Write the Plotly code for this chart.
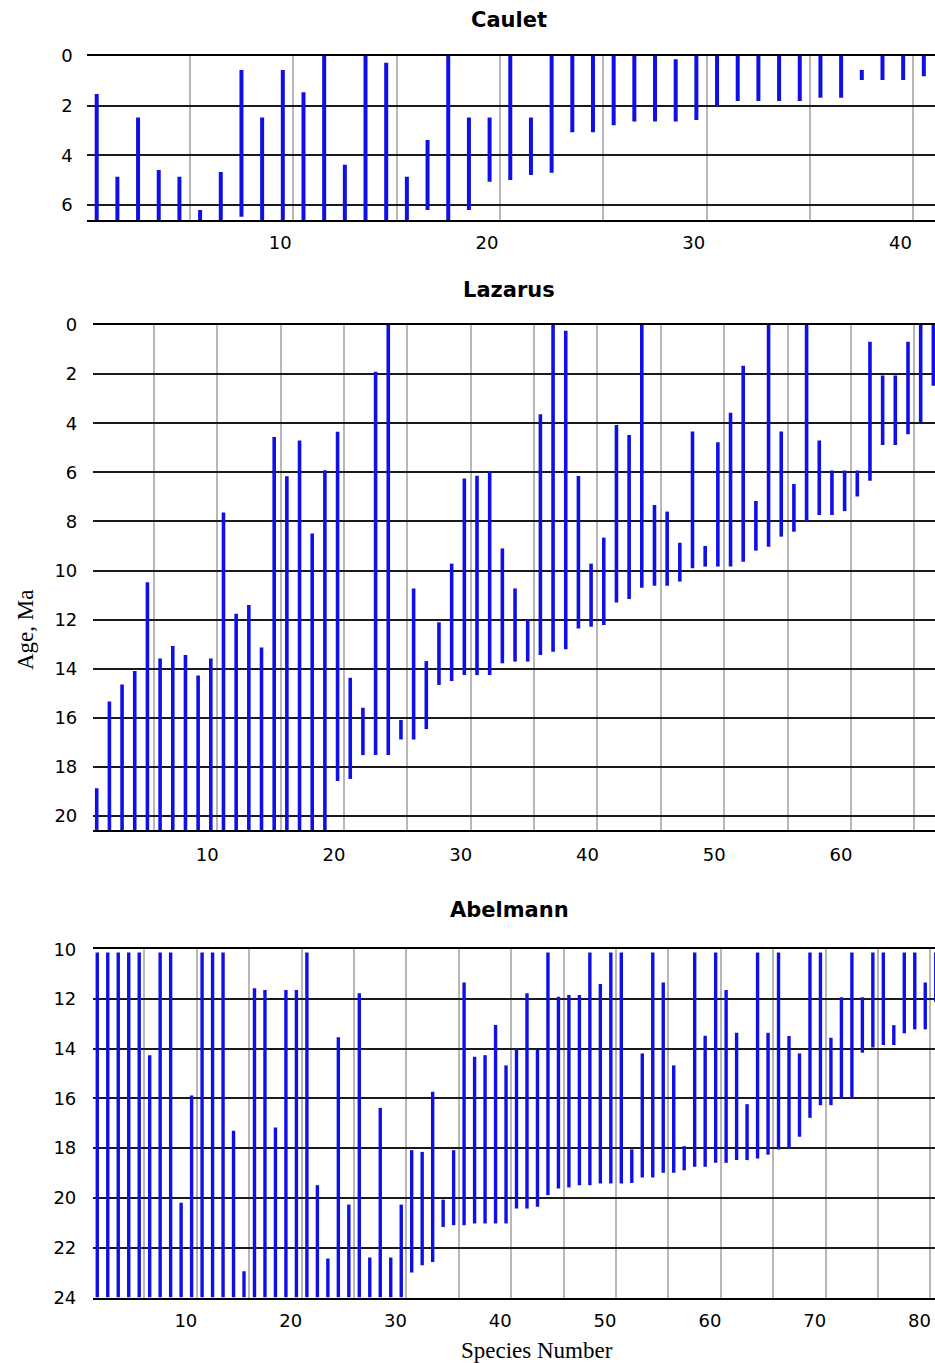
import plotly.graph_objects as go

W, H = 935, 1363

# ---------------- data (Ma) ----------------
caulet_species = list(range(1, 42))
caulet_top = [1.53, 4.86, 2.47, 4.59, 4.86, 6.2, 4.67, 0.56, 2.47, 0.56,
              1.46, 0.0, 4.38, 0.0, 0.27, 4.86, 3.38, 0.0, 2.47, 2.47,
              0.0, 2.47, 0.0, 0.0, 0.0, 0.0, 0.0, 0.0, 0.13, 0.0,
              0.0, 0.0, 0.0, 0.0, 0.0, 0.0, 0.0, 0.56, 0.0, 0.0, 0.0]
caulet_base = [6.6, 6.6, 6.6, 6.6, 6.6, 6.6, 6.6, 6.47, 6.6, 6.6,
               6.6, 6.6, 6.6, 6.6, 6.6, 6.6, 6.2, 6.6, 6.2, 5.06,
               4.99, 4.79, 4.7, 3.07, 3.07, 2.79, 2.64, 2.64, 2.64, 2.58,
               2.01, 1.81, 1.81, 1.81, 1.81, 1.68, 1.68, 0.97, 0.97, 0.97, 0.81]

lazarus_species = list(range(1, 68))
lazarus_top = [18.87, 15.34, 14.64, 14.09, 10.48, 13.58, 13.08, 13.44, 14.28, 13.58,
               7.64, 11.76, 11.41, 13.14, 4.56, 6.16, 4.70, 8.49, 5.92, 4.35,
               14.37, 15.59, 1.90, 0.0, 16.09, 10.73, 13.69, 12.11, 9.72, 6.25,
               6.14, 5.95, 9.10, 10.73, 11.98, 3.64, 0.0, 0.23, 6.15, 9.72,
               8.66, 4.07, 4.48, 0.0, 7.33, 7.60, 8.87, 4.34, 9.00, 4.78,
               3.57, 1.66, 7.17, 0.0, 4.34, 6.48, 0.0, 4.70, 5.93, 5.93,
               5.93, 0.68, 2.06, 2.06, 0.68, 0.0, 0.0]
lazarus_base = [20.6, 20.6, 20.6, 20.6, 20.6, 20.6, 20.6, 20.6, 20.6, 20.6,
                20.6, 20.6, 20.6, 20.6, 20.6, 20.6, 20.6, 20.6, 20.6, 18.57,
                18.49, 17.52, 17.52, 17.52, 16.88, 16.88, 16.46, 14.66, 14.50, 14.26,
                14.26, 14.26, 13.78, 13.71, 13.71, 13.44, 13.31, 13.21, 12.36, 12.29,
                12.22, 11.30, 11.16, 10.70, 10.62, 10.62, 10.45, 9.91, 9.84, 9.84,
                9.84, 9.64, 9.19, 9.03, 8.62, 8.42, 7.98, 7.74, 7.74, 7.58,
                6.99, 6.34, 4.89, 4.89, 4.45, 3.96, 2.47]

abelmann_species = list(range(1, 82))
abelmann_top = [10.13, 10.13, 10.13, 10.13, 10.13, 14.26, 10.13, 10.13, 20.2, 15.88,
                10.13, 10.13, 10.13, 17.3, 22.95, 11.57, 11.64, 17.17, 11.64, 11.64,
                10.13, 19.49, 22.44, 13.54, 20.27, 11.77, 22.4, 16.38, 22.4, 20.27,
                18.08, 18.15, 15.73, 20.07, 18.08, 11.34, 14.32, 14.26, 13.05, 14.67,
                13.99, 11.77, 14.05, 10.13, 11.91, 11.84, 11.84, 10.13, 11.4, 10.13,
                10.13, 18.05, 14.19, 10.13, 11.34, 14.67, 17.92, 10.13, 13.48, 10.13,
                11.64, 13.36, 16.23, 10.13, 13.36, 10.13, 13.49, 14.19, 10.13, 10.13,
                13.56, 11.93, 10.13, 11.93, 10.13, 10.13, 13.05, 10.13, 10.13, 11.34,
                10.13]
abelmann_base = [24.0, 24.0, 24.0, 24.0, 24.0, 24.0, 24.0, 24.0, 24.0, 24.0,
                 24.0, 24.0, 24.0, 24.0, 24.0, 24.0, 24.0, 24.0, 24.0, 24.0,
                 24.0, 24.0, 24.0, 24.0, 24.0, 24.0, 24.0, 24.0, 24.0, 24.0,
                 23.0, 22.71, 22.58, 21.17, 21.1, 21.1, 21.03, 21.03, 21.03, 21.03,
                 20.43, 20.43, 20.36, 19.89, 19.62, 19.58, 19.49, 19.49, 19.42, 19.42,
                 19.42, 19.4, 19.18, 19.18, 18.99, 18.99, 18.89, 18.75, 18.75, 18.59,
                 18.59, 18.48, 18.48, 18.42, 18.26, 18.05, 18.01, 17.54, 16.78, 16.27,
                 16.27, 16.0, 16.0, 14.16, 13.95, 13.85, 13.85, 13.38, 13.22, 13.22,
                 12.11]

x_tickvals = [5, 10, 15, 20, 25, 30, 35, 40, 45, 50, 55, 60, 65, 70, 75, 80]
x_ticktext = ["", "10", "", "20", "", "30", "", "40", "", "50", "", "60", "", "70", "", "80"]

panels = [
    # name, species, top, base, x-range, y-range, yticks, px box (l, t, b),
    # x label shift, x label standoff, y label standoff, bar width, title y
    ("Caulet", caulet_species, caulet_top, caulet_base, [0.016, 41.04], [6.6, 0],
     [0, 2, 4, 6], (86.7, 56, 220), -13, 6, 13, 4.0, 20),
    ("Lazarus", lazarus_species, lazarus_top, lazarus_base, [0.23, 66.63], [20.57, 0],
     [0, 2, 4, 6, 8, 10, 12, 14, 16, 18, 20], (93.3, 325, 830), -10, 8, 15, 3.6, 290),
    ("Abelmann", abelmann_species, abelmann_top, abelmann_base, [0.12, 80.43], [24.04, 10],
     [10, 12, 14, 16, 18, 20, 22, 24], (93.3, 949.3, 1298.3), -11, 5, 16, 3.4, 910),
]

BLUE = "#1010e6"
SANS = "DejaVu Sans, Verdana, sans-serif"
SERIF = "Liberation Serif, Times New Roman, serif"
tick_font = dict(family=SANS, size=18, color="black")

fig = go.Figure()
layout = dict(
    width=W, height=H, margin=dict(l=0, r=0, t=0, b=0),
    paper_bgcolor="white", plot_bgcolor="white", showlegend=False,
    annotations=[],
)

for k, (name, sp, top, base, xr, yr, yt, box, shift, xstand, ystand, bw, title_y) in enumerate(panels):
    idx = "" if k == 0 else str(k + 1)
    xs, ys = [], []
    for s, t, b in zip(sp, top, base):
        xs += [s - 0.5, s - 0.5, None]
        ys += [t, b, None]
    fig.add_trace(go.Scatter(x=xs, y=ys, mode="lines", line=dict(color=BLUE, width=bw),
                             xaxis="x" + idx, yaxis="y" + idx, hoverinfo="skip"))
    l, t_px, b_px = box
    layout["xaxis" + idx] = dict(
        domain=[l / W, 1.0], range=xr, anchor="y" + idx,
        tickvals=x_tickvals, ticktext=x_ticktext,
        showgrid=True, gridcolor="#b8b8b8", gridwidth=1.5,
        showline=True, linecolor="black", linewidth=1.5, mirror=True,
        ticks="", tickfont=tick_font, ticklabelshift=shift, ticklabelstandoff=xstand,
        zeroline=False, automargin=False,
    )
    layout["yaxis" + idx] = dict(
        domain=[1 - b_px / H, 1 - t_px / H], range=yr, anchor="x" + idx,
        tickvals=yt, showgrid=True, gridcolor="#1a1a1a", gridwidth=1.5,
        showline=False, ticks="", tickfont=tick_font, ticklabelstandoff=ystand,
        zeroline=False, automargin=False,
    )
    layout["annotations"].append(dict(
        text="<b>%s</b>" % name, x=509 / W, y=1 - title_y / H, xref="paper", yref="paper",
        showarrow=False, xanchor="center", yanchor="middle",
        font=dict(family=SANS, size=21, color="black")))

layout["annotations"].append(dict(
    text="Age, Ma", x=25 / W, y=1 - 630 / H, xref="paper", yref="paper", textangle=-90,
    showarrow=False, xanchor="center", yanchor="middle",
    font=dict(family=SERIF, size=23, color="black")))
layout["annotations"].append(dict(
    text="Species Number", x=537 / W, y=1 - 1350 / H, xref="paper", yref="paper",
    showarrow=False, xanchor="center", yanchor="middle",
    font=dict(family=SERIF, size=23, color="black")))

fig.update_layout(**layout)
fig.write_html("out.html")
